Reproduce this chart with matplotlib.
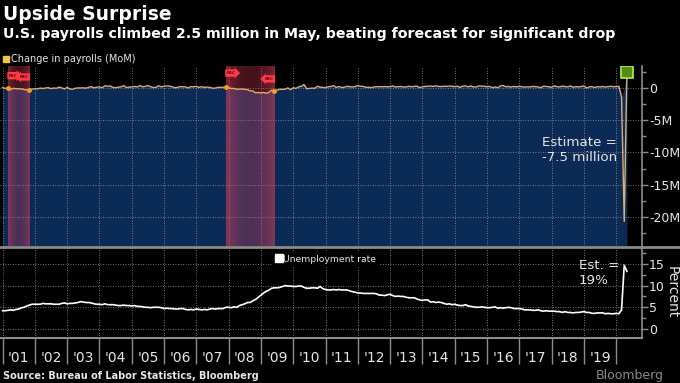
import numpy as np
import matplotlib
matplotlib.use("Agg")
import matplotlib.pyplot as plt
from matplotlib.lines import Line2D

# monthly change in nonfarm payrolls, thousands, Jan 2001 .. May 2020
payrolls_k = [
    42, -61, -30, -281, -44, -128, -125, -160, -244, -325, -292, -178,
    -132, -147, -24, -85, -7, 47, -100, -5, -56, 122, 8, -156,
    91, -159, -212, -49, -6, -2, 24, -42, 103, 196, 12, 115,
    159, 43, 337, 250, 310, 78, 38, 120, 165, 351, 64, 132,
    136, 240, 141, 360, 170, 246, 369, 195, 66, 84, 334, 157,
    278, 316, 283, 182, 23, 77, 208, 184, 157, 2, 210, 171,
    238, 88, 188, 78, 144, 71, -33, -24, 88, 84, 114, 98,
    17, -85, -79, -214, -182, -172, -210, -259, -452, -474, -765, -697,
    -791, -703, -823, -686, -351, -470, -329, -213, -220, -204, -2, -275,
    23, -68, 164, 243, 522, -133, -70, -34, -52, 262, 119, 87,
    43, 189, 225, 346, 77, 225, 69, 110, 246, 202, 146, 205,
    359, 263, 240, 94, 109, 52, 159, 194, 194, 180, 219, 163,
    193, 311, 135, 192, 218, 146, 140, 268, 164, 253, 262, 52,
    174, 222, 251, 296, 239, 315, 233, 209, 271, 243, 299, 263,
    193, 265, 82, 275, 311, 184, 286, 156, 143, 318, 272, 270,
    170, 246, 30, 160, 32, 307, 357, 187, 220, 140, 229, 158,
    254, 181, 114, 176, 149, 236, 191, 160, 19, 279, 227, 176,
    104, 313, 192, 147, 287, 212, 149, 320, 97, 213, 143, 215,
    312, 1, 153, 210, 63, 186, 161, 215, 145, 208, 261, 184,
    214, 251, -1373, -20687, 2509,
]
# unemployment rate, percent, same months
unemployment = [
    4.2, 4.2, 4.3, 4.4, 4.3, 4.5, 4.6, 4.9, 5.0, 5.3, 5.5, 5.7,
    5.7, 5.7, 5.7, 5.9, 5.8, 5.8, 5.8, 5.7, 5.7, 5.7, 5.9, 6.0,
    5.8, 5.9, 5.9, 6.0, 6.1, 6.3, 6.2, 6.1, 6.1, 6.0, 5.8, 5.7,
    5.7, 5.6, 5.8, 5.6, 5.6, 5.6, 5.5, 5.4, 5.4, 5.5, 5.4, 5.4,
    5.3, 5.4, 5.2, 5.2, 5.1, 5.0, 5.0, 4.9, 5.0, 5.0, 5.0, 4.9,
    4.7, 4.8, 4.7, 4.7, 4.6, 4.6, 4.7, 4.7, 4.5, 4.4, 4.5, 4.4,
    4.6, 4.5, 4.4, 4.5, 4.4, 4.6, 4.7, 4.6, 4.7, 4.7, 4.7, 5.0,
    5.0, 4.9, 5.1, 5.0, 5.4, 5.6, 5.8, 6.1, 6.1, 6.5, 6.8, 7.3,
    7.8, 8.3, 8.7, 9.0, 9.4, 9.5, 9.5, 9.6, 9.8, 10.0, 9.9, 9.9,
    9.8, 9.8, 9.9, 9.9, 9.6, 9.4, 9.4, 9.5, 9.5, 9.4, 9.8, 9.3,
    9.1, 9.0, 9.0, 9.1, 9.0, 9.1, 9.0, 9.0, 9.0, 8.8, 8.6, 8.5,
    8.3, 8.3, 8.2, 8.2, 8.2, 8.2, 8.2, 8.1, 7.8, 7.8, 7.7, 7.9,
    8.0, 7.7, 7.5, 7.6, 7.5, 7.5, 7.3, 7.2, 7.2, 7.2, 6.9, 6.7,
    6.6, 6.7, 6.7, 6.2, 6.3, 6.1, 6.2, 6.1, 5.9, 5.7, 5.8, 5.6,
    5.7, 5.5, 5.4, 5.4, 5.6, 5.3, 5.2, 5.1, 5.0, 5.0, 5.1, 5.0,
    4.9, 4.9, 5.0, 5.1, 4.8, 4.9, 4.8, 4.9, 5.0, 4.9, 4.7, 4.7,
    4.7, 4.6, 4.4, 4.4, 4.4, 4.3, 4.3, 4.4, 4.2, 4.1, 4.2, 4.1,
    4.1, 4.1, 4.0, 4.0, 3.8, 4.0, 3.8, 3.8, 3.7, 3.8, 3.8, 3.9,
    4.0, 3.8, 3.8, 3.6, 3.6, 3.7, 3.7, 3.7, 3.5, 3.6, 3.5, 3.5,
    3.6, 3.5, 4.4, 14.7, 13.3,
]
start_year = 2001
recessions = [(2001 + 2/12, 2001 + 10/12), (2007 + 11/12, 2009 + 5/12)]
year_labels = ["'%02d" % (y % 100) for y in range(2001, 2020)]
payroll_ticks = [0, -5, -10, -15, -20]
payroll_ticklabels = ["0", "-5M", "-10M", "-15M", "-20M"]
rate_ticks = [0, 5, 10, 15]

BG = "black"; GRID = "#9a9a9a"; TXT = "#e6e6e6"; SPINE = "#8c8c8c"
BLUE = "#0b2a55"; LINE = "#dcae72"

pay = np.array(payrolls_k) / 1000.0
rate = np.array(unemployment)
x = start_year + np.arange(len(pay)) / 12.0
# blue area follows the series but is not cut by the April crash
fill_top = np.where(pay < -5, 0, pay)

W, H = 680, 383
fig = plt.figure(figsize=(W / 100, H / 100), dpi=100, facecolor=BG)
def px(l, t, r, b):
    return [l / W, 1 - b / H, (r - l) / W, (b - t) / H]
ax1 = fig.add_axes(px(0, 66, 642, 246), facecolor=BG)
ax2 = fig.add_axes(px(0, 248, 642, 338), facecolor=BG, sharex=ax1)
xlim = (2000.92, 2020.8)
ylim1 = (-24.5, 3.4)

# --- top panel: payrolls
ax1.set_xlim(*xlim); ax1.set_ylim(*ylim1)
ax1.fill_between(x, fill_top, ylim1[0], color=BLUE, lw=0, zorder=1)
# recession bands: red wash, stronger at the edges
prof = np.linspace(-1, 1, 64)
band = np.zeros((1, 64, 4))
band[..., :3] = (0.9, 0.25, 0.36)
band[..., 3] = 0.3 + 0.25 * prof ** 2
for a, b in recessions:
    ax1.imshow(band, extent=(a, b, ylim1[0], ylim1[1]), aspect="auto",
               interpolation="bilinear", zorder=2)
ax1.set_xlim(*xlim); ax1.set_ylim(*ylim1)
ax1.plot(x, pay, color=LINE, lw=1.0, zorder=4)
for a, b in recessions:
    ax1.plot([a, b], np.interp([a, b], x, pay), "o", ms=2.5, color="#f0a020", zorder=5)
rec_y = [(1.9, 1.7), (2.3, 1.4)]
for (a, b), (ya, yb) in zip(recessions, rec_y):
    kw = dict(fontsize=3.0, color="#6a0000", fontweight="bold", va="center", zorder=6)
    ax1.text(a + 0.03, ya, "REC", ha="left",
             bbox=dict(boxstyle="rarrow,pad=0.4", fc="#ff3a4a", ec="none"), **kw)
    ax1.text(b - 0.03, yb, "REC", ha="right",
             bbox=dict(boxstyle="larrow,pad=0.4", fc="#ff3a4a", ec="none"), **kw)
ax1.plot(x[-1], pay[-1], "s", ms=8.5, mfc="#4f8f14", mec="#b8e84a", mew=1.2, zorder=7)
ax1.text(2017.7, -9.6, "Estimate =\n-7.5 million", color=TXT, fontsize=9.6,
         ha="left", va="center", linespacing=1.2, zorder=6)

# --- bottom panel: unemployment rate
ax2.set_ylim(-2.1, 18.7)
ax2.plot(x, rate, color="white", lw=1.2, zorder=4)
ax2.text(2018.85, 12.9, "Est. =\n19%", color=TXT, fontsize=9.6,
         ha="left", va="center", linespacing=1.2)

for ax in (ax1, ax2):
    for s in ("left", "top"):
        ax.spines[s].set_visible(False)
    ax.spines["right"].set_color(SPINE); ax.spines["bottom"].set_color(SPINE)
    ax.spines["right"].set_linewidth(1.2); ax.spines["bottom"].set_linewidth(1.5)
    ax.yaxis.tick_right()
    ax.set_xticks(np.arange(2001, 2021))
    ax.grid(True, color=GRID, ls=(0, (1, 2)), lw=0.6, zorder=3)
    ax.tick_params(axis="y", colors=SPINE, labelcolor=TXT, labelsize=9,
                   length=4, width=1, pad=1)
    ax.tick_params(axis="y", which="minor", colors=SPINE, length=3, width=1)

ax1.set_yticks(payroll_ticks, payroll_ticklabels)
ax1.set_yticks([-22.5, -17.5, -12.5, -7.5, -2.5, 2.5], minor=True)
ax1.tick_params(axis="x", which="both", bottom=False, labelbottom=False)
ax1.spines["bottom"].set_visible(False)
ax2.set_yticks(rate_ticks)
ax2.set_yticks([2.5, 7.5, 12.5, 17.5], minor=True)
ax2.set_xticks(np.arange(2001, 2020) + 0.5, year_labels, minor=True)
ax2.tick_params(axis="x", which="major", length=19, color=SPINE, width=1, labelbottom=False)
ax2.tick_params(axis="x", which="minor", length=0, labelcolor=TXT, labelsize=10, pad=9)

# legends
ax1.legend(handles=[Line2D([], [], ls="", marker="s", ms=5, color="#f2c744")],
           labels=["Change in payrolls (MoM)"], loc="lower left",
           bbox_to_anchor=(0.0, 1.0), frameon=False, fontsize=7, labelcolor=TXT,
           handletextpad=0.1, borderaxespad=0.1, borderpad=0.1, handlelength=0.8)
ax2.legend(handles=[Line2D([], [], ls="", marker="s", ms=5.5, color="white")],
           labels=["Unemployment rate"], loc="upper left",
           bbox_to_anchor=(0.418, 1.0), frameon=True, facecolor=BG, edgecolor=BG,
           framealpha=1, fontsize=6.7, labelcolor=TXT,
           handletextpad=0.1, borderpad=0.2, handlelength=0.8)

# separator between panels
fig.add_artist(Line2D([0, 1], [1 - 247 / H] * 2, color=SPINE, lw=2))

fig.text(672 / W, 1 - 292 / H, "Percent", color=TXT, fontsize=10,
         rotation=270, ha="center", va="center")
fig.text(3 / W, 1 - 5 / H, "Upside Surprise", color="white", fontsize=13.5,
         fontweight="bold", va="top", ha="left")
fig.text(3 / W, 1 - 27 / H,
         "U.S. payrolls climbed 2.5 million in May, beating forecast for significant drop",
         color="white", fontsize=10.2, fontweight="bold", va="top", ha="left")
fig.text(3 / W, 1 - 376 / H, "Source: Bureau of Labor Statistics, Bloomberg",
         color=TXT, fontsize=7.0, fontweight="bold", va="center", ha="left")
fig.text(664 / W, 1 - 376 / H, "Bloomberg", color="#8a8a8a", fontsize=9,
         va="center", ha="right")

fig.savefig("out.png", dpi=100, facecolor=BG)
